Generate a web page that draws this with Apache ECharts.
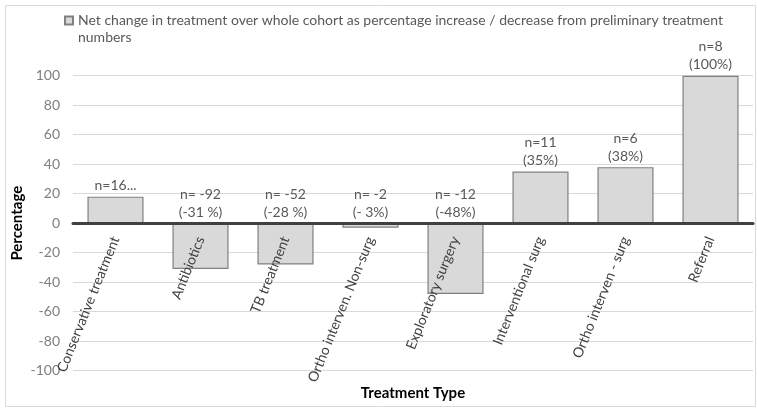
<!DOCTYPE html>
<html>
<head>
<meta charset="utf-8">
<script src="https://cdn.jsdelivr.net/npm/echarts@6/dist/echarts.min.js"></script>
<style>html,body{margin:0;padding:0;background:#fff}#c{width:757px;height:408px}</style>
</head>
<body>
<div id="c"></div>
<script>
const categories = ['Conservative treatment', 'Antibiotics', 'TB treatment', 'Ortho interven. Non-surg', 'Exploratory surgery', 'Interventional surg', 'Ortho interven - surg', 'Referral'];
const values = [18, -31, -28, -3, -48, 35, 38, 100];
const barLabels = ['n=16...', 'n= -92\n(-31 %)', 'n= -52\n(-28 %)', 'n= -2\n(- 3%)', 'n= -12\n(-48%)', 'n=11\n(35%)', 'n=6\n(38%)', 'n=8\n(100%)'];
const seriesName = 'Net change in treatment over whole cohort as percentage increase / decrease from preliminary treatment\nnumbers';
const yTicks = { min: -100, max: 100, interval: 20 };

const FONT = 'Lato';
const GRID = { left: 73, right: 4, top: 75.7, bottom: 37.3 };
const gridH = 408 - GRID.top - GRID.bottom;
const zeroOffset = -(0 - yTicks.min) / (yTicks.max - yTicks.min) * gridH;

const chart = echarts.init(document.getElementById('c'), null, { renderer: 'canvas' });
chart.setOption({
  animation: false,
  backgroundColor: '#ffffff',
  textStyle: { fontFamily: FONT },
  graphic: [{
    type: 'rect', left: 3, top: 3,
    shape: { width: 750, height: 401 },
    style: { fill: 'none', stroke: '#d9d9d9', lineWidth: 1 },
    silent: true
  }],
  legend: {
    left: 64, top: 12, padding: 0,
    itemWidth: 8, itemHeight: 25,
    icon: 'path://M0,0h8v8h-8zM8,25',
    textStyle: { fontFamily: FONT, fontSize: 14, color: '#595959', lineHeight: 17 },
    data: [seriesName]
  },
  grid: { left: GRID.left, right: GRID.right, top: GRID.top, bottom: GRID.bottom, containLabel: false, outerBoundsMode: 'none' },
  xAxis: {
    type: 'category',
    data: categories,
    position: 'bottom',
    offset: zeroOffset,
    z: 10,
    name: 'Treatment Type',
    nameLocation: 'middle',
    nameGap: 162,
    nameMoveOverlap: false,
    nameTextStyle: { fontFamily: FONT, fontSize: 15, fontWeight: 'bold', color: '#000' },
    axisLine: { onZero: false, lineStyle: { color: '#404040', width: 3 } },
    axisTick: { show: false },
    axisLabel: { rotate: 68, margin: 14, fontSize: 14, color: '#404040', fontFamily: FONT, interval: 0 },
    splitLine: { show: false }
  },
  yAxis: {
    type: 'value',
    min: yTicks.min, max: yTicks.max, interval: yTicks.interval,
    name: 'Percentage',
    nameLocation: 'middle',
    nameGap: 48,
    nameRotate: 90,
    nameMoveOverlap: false,
    nameTextStyle: { fontFamily: FONT, fontSize: 15, fontWeight: 'bold', color: '#000' },
    axisLine: { show: false },
    axisTick: { show: false },
    axisLabel: { fontSize: 14, color: '#7f7f7f', margin: 13, fontFamily: FONT },
    splitLine: { lineStyle: { color: '#d9d9d9', width: 1 } }
  },
  series: [{
    name: seriesName,
    type: 'bar',
    data: values,
    barCategoryGap: '34%',
    itemStyle: { color: '#d9d9d9', borderColor: '#808080', borderWidth: 1.2 },
    label: {
      show: true,
      position: 'top',
      distance: 2,
      fontSize: 14,
      lineHeight: 18,
      color: '#595959',
      fontFamily: FONT,
      formatter: (p) => barLabels[p.dataIndex]
    }
  }]
});
</script>
</body>
</html>
